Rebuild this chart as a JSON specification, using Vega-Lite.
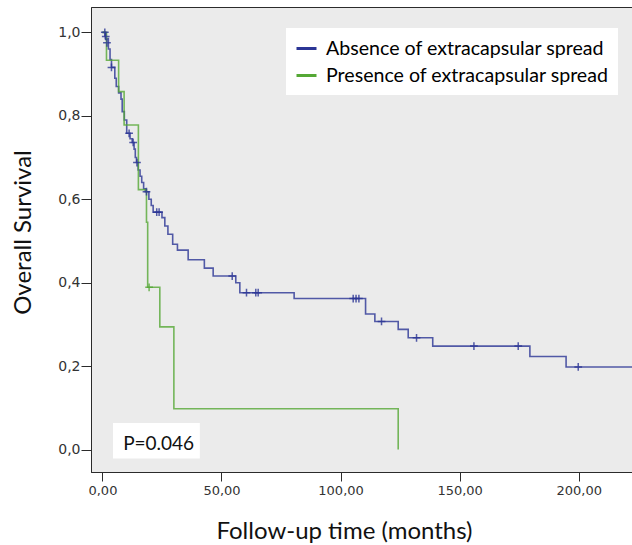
{
  "$schema": "https://vega.github.io/schema/vega-lite/v6.json",
  "width": 542,
  "height": 465,
  "autosize": {"type": "none"},
  "padding": {"left": 91, "top": 7, "right": 0, "bottom": 73},
  "background": "white",
  "config": {
    "view": {"fill": "#EBEBEB", "stroke": "#2b2b2b", "strokeWidth": 1},
    "axis": {
      "grid": false,
      "domainColor": "#2b2b2b",
      "tickColor": "#2b2b2b",
      "labelFont": "DejaVu Sans",
      "labelFontSize": 13,
      "labelColor": "#333333",
      "titleFont": "Lato",
      "titleFontSize": 24,
      "titleFontWeight": "normal",
      "titleColor": "#111111"
    }
  },
  "datasets": {
    "curves": [
      {"t": 0, "s": 1.0, "group": "Absence of extracapsular spread"},
      {"t": 1.2, "s": 0.985, "group": "Absence of extracapsular spread"},
      {"t": 2.5, "s": 0.96, "group": "Absence of extracapsular spread"},
      {"t": 3.2, "s": 0.935, "group": "Absence of extracapsular spread"},
      {"t": 3.8, "s": 0.916, "group": "Absence of extracapsular spread"},
      {"t": 5.2, "s": 0.89, "group": "Absence of extracapsular spread"},
      {"t": 5.8, "s": 0.87, "group": "Absence of extracapsular spread"},
      {"t": 6.8, "s": 0.855, "group": "Absence of extracapsular spread"},
      {"t": 7.8, "s": 0.84, "group": "Absence of extracapsular spread"},
      {"t": 8.3, "s": 0.81, "group": "Absence of extracapsular spread"},
      {"t": 9.2, "s": 0.79, "group": "Absence of extracapsular spread"},
      {"t": 10.2, "s": 0.758, "group": "Absence of extracapsular spread"},
      {"t": 11.6, "s": 0.745, "group": "Absence of extracapsular spread"},
      {"t": 12.5, "s": 0.736, "group": "Absence of extracapsular spread"},
      {"t": 13.3, "s": 0.72, "group": "Absence of extracapsular spread"},
      {"t": 13.8, "s": 0.70, "group": "Absence of extracapsular spread"},
      {"t": 14.3, "s": 0.688, "group": "Absence of extracapsular spread"},
      {"t": 15.0, "s": 0.67, "group": "Absence of extracapsular spread"},
      {"t": 15.8, "s": 0.655, "group": "Absence of extracapsular spread"},
      {"t": 16.5, "s": 0.64, "group": "Absence of extracapsular spread"},
      {"t": 17.3, "s": 0.625, "group": "Absence of extracapsular spread"},
      {"t": 18.0, "s": 0.618, "group": "Absence of extracapsular spread"},
      {"t": 19.5, "s": 0.60, "group": "Absence of extracapsular spread"},
      {"t": 20.5, "s": 0.585, "group": "Absence of extracapsular spread"},
      {"t": 21.3, "s": 0.569, "group": "Absence of extracapsular spread"},
      {"t": 25.0, "s": 0.556, "group": "Absence of extracapsular spread"},
      {"t": 26.2, "s": 0.536, "group": "Absence of extracapsular spread"},
      {"t": 27.5, "s": 0.516, "group": "Absence of extracapsular spread"},
      {"t": 29.5, "s": 0.492, "group": "Absence of extracapsular spread"},
      {"t": 31.5, "s": 0.478, "group": "Absence of extracapsular spread"},
      {"t": 36.0, "s": 0.455, "group": "Absence of extracapsular spread"},
      {"t": 42.8, "s": 0.435, "group": "Absence of extracapsular spread"},
      {"t": 46.5, "s": 0.416, "group": "Absence of extracapsular spread"},
      {"t": 56.0, "s": 0.40, "group": "Absence of extracapsular spread"},
      {"t": 57.7, "s": 0.376, "group": "Absence of extracapsular spread"},
      {"t": 80.5, "s": 0.362, "group": "Absence of extracapsular spread"},
      {"t": 110.5, "s": 0.325, "group": "Absence of extracapsular spread"},
      {"t": 114.4, "s": 0.307, "group": "Absence of extracapsular spread"},
      {"t": 124.2, "s": 0.288, "group": "Absence of extracapsular spread"},
      {"t": 128.4, "s": 0.268, "group": "Absence of extracapsular spread"},
      {"t": 138.7, "s": 0.248, "group": "Absence of extracapsular spread"},
      {"t": 179.5, "s": 0.223, "group": "Absence of extracapsular spread"},
      {"t": 194.7, "s": 0.198, "group": "Absence of extracapsular spread"},
      {"t": 226, "s": 0.198, "group": "Absence of extracapsular spread"},
      {"t": 0, "s": 1.0, "group": "Presence of extracapsular spread"},
      {"t": 1.7, "s": 0.933, "group": "Presence of extracapsular spread"},
      {"t": 6.8, "s": 0.858, "group": "Presence of extracapsular spread"},
      {"t": 9.1, "s": 0.778, "group": "Presence of extracapsular spread"},
      {"t": 15.1, "s": 0.623, "group": "Presence of extracapsular spread"},
      {"t": 18.5, "s": 0.545, "group": "Presence of extracapsular spread"},
      {"t": 19.0, "s": 0.389, "group": "Presence of extracapsular spread"},
      {"t": 24.1, "s": 0.294, "group": "Presence of extracapsular spread"},
      {"t": 30.0, "s": 0.098, "group": "Presence of extracapsular spread"},
      {"t": 124.2, "s": 0.0, "group": "Presence of extracapsular spread"}
    ],
    "censor": [
      {"t": 1.0, "s": 1.0, "group": "Absence of extracapsular spread"},
      {"t": 1.4, "s": 0.99, "group": "Absence of extracapsular spread"},
      {"t": 1.9, "s": 0.975, "group": "Absence of extracapsular spread"},
      {"t": 3.8, "s": 0.916, "group": "Absence of extracapsular spread"},
      {"t": 11.2, "s": 0.758, "group": "Absence of extracapsular spread"},
      {"t": 12.9, "s": 0.736, "group": "Absence of extracapsular spread"},
      {"t": 14.5, "s": 0.688, "group": "Absence of extracapsular spread"},
      {"t": 18.5, "s": 0.618, "group": "Absence of extracapsular spread"},
      {"t": 22.8, "s": 0.569, "group": "Absence of extracapsular spread"},
      {"t": 23.8, "s": 0.569, "group": "Absence of extracapsular spread"},
      {"t": 54.5, "s": 0.416, "group": "Absence of extracapsular spread"},
      {"t": 60.5, "s": 0.376, "group": "Absence of extracapsular spread"},
      {"t": 64.4, "s": 0.376, "group": "Absence of extracapsular spread"},
      {"t": 65.4, "s": 0.376, "group": "Absence of extracapsular spread"},
      {"t": 105.3, "s": 0.362, "group": "Absence of extracapsular spread"},
      {"t": 106.5, "s": 0.362, "group": "Absence of extracapsular spread"},
      {"t": 107.7, "s": 0.362, "group": "Absence of extracapsular spread"},
      {"t": 117.2, "s": 0.307, "group": "Absence of extracapsular spread"},
      {"t": 131.9, "s": 0.268, "group": "Absence of extracapsular spread"},
      {"t": 156.0, "s": 0.248, "group": "Absence of extracapsular spread"},
      {"t": 174.6, "s": 0.248, "group": "Absence of extracapsular spread"},
      {"t": 199.8, "s": 0.198, "group": "Absence of extracapsular spread"},
      {"t": 19.6, "s": 0.389, "group": "Presence of extracapsular spread"}
    ],
    "pbox": [{"x1": 4.45, "x2": 40.9, "y1": -0.0216, "y2": 0.064, "tx": 8.7, "ty": 0.0, "label": "P=0.046"}]
  },
  "layer": [
    {
      "data": {"name": "curves"},
      "mark": {"type": "line", "interpolate": "step-after", "clip": true, "strokeWidth": 1.6, "opacity": 0.8},
      "encoding": {
        "x": {
          "field": "t", "type": "quantitative",
          "scale": {"domain": [-4.8, 222.8], "nice": false, "zero": false},
          "axis": {
            "values": [0, 50, 100, 150, 200],
            "labelExpr": "replace(format(datum.value, '.2f'), '.', ',')",
            "title": "Follow-up time (months)",
            "tickSize": 9,
            "labelPadding": 3,
            "titleX": 253,
            "titleY": 66,
            "titleAlign": "center",
            "titleBaseline": "alphabetic"
          }
        },
        "y": {
          "field": "s", "type": "quantitative",
          "scale": {"domain": [-0.0537, 1.0607], "nice": false, "zero": false},
          "axis": {
            "values": [0, 0.2, 0.4, 0.6, 0.8, 1.0],
            "labelExpr": "replace(format(datum.value, '.1f'), '.', ',')",
            "labelFontSize": 14,
            "title": "Overall Survival",
            "tickSize": 10,
            "labelPadding": 1,
            "titleAngle": 270,
            "titleX": -61,
            "titleY": 225,
            "titleAlign": "center",
            "titleBaseline": "alphabetic"
          }
        },
        "color": {
          "field": "group", "type": "nominal",
          "scale": {
            "domain": ["Absence of extracapsular spread", "Presence of extracapsular spread"],
            "range": ["#2B3595", "#55A835"]
          },
          "legend": {
            "title": null,
            "orient": "none",
            "legendX": 195,
            "legendY": 21,
            "fillColor": "white",
            "padding": 9,
            "symbolType": "stroke",
            "symbolStrokeWidth": 3,
            "symbolSize": 400,
            "symbolOpacity": 1,
            "labelFontSize": 19.6,
            "labelFont": "Lato",
            "labelColor": "black",
            "rowPadding": 5,
            "labelOffset": 8,
            "labelLimit": 400
          }
        }
      }
    },
    {
      "data": {"name": "censor"},
      "mark": {"type": "point", "shape": "M0,-1L0,1M-1,0L1,0", "filled": false, "strokeWidth": 1.5, "size": 60, "opacity": 0.8, "clip": true},
      "encoding": {
        "x": {"field": "t", "type": "quantitative"},
        "y": {"field": "s", "type": "quantitative"},
        "color": {"field": "group", "type": "nominal", "legend": null}
      }
    },
    {
      "data": {"name": "pbox"},
      "mark": {"type": "rect", "fill": "white"},
      "encoding": {
        "x": {"field": "x1", "type": "quantitative"},
        "x2": {"field": "x2"},
        "y": {"field": "y1", "type": "quantitative"},
        "y2": {"field": "y2"}
      }
    },
    {
      "data": {"name": "pbox"},
      "mark": {"type": "text", "align": "left", "baseline": "alphabetic", "font": "Lato", "fontSize": 19, "color": "#111111"},
      "encoding": {
        "x": {"field": "tx", "type": "quantitative"},
        "y": {"field": "ty", "type": "quantitative"},
        "text": {"field": "label"}
      }
    }
  ]
}
